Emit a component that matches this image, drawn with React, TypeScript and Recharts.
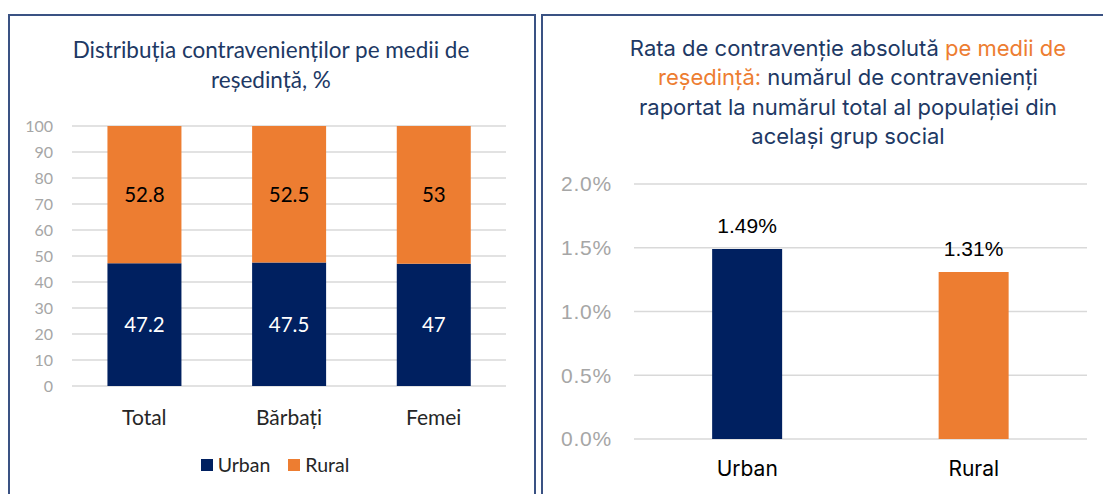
import { Bar, BarChart, CartesianGrid, Cell, LabelList, Legend, XAxis, YAxis } from "recharts";

const groups = ["Total", "Bărbați", "Femei"];
const urbanShare = [47.2, 47.5, 47];
const ruralShare = [52.8, 52.5, 53];
const shareTicks = [0, 10, 20, 30, 40, 50, 60, 70, 80, 90, 100];

const areas = ["Urban", "Rural"];
const rates = [1.49, 1.31];
const rateTicks = [0, 0.5, 1, 1.5, 2];

const NAVY = "#002060";
const ORANGE = "#ED7D31";
const TITLE = "#203864";
const GRID = "#D9D9D9";
const FRAME = "#3A5283";

const leftFont = "Lato, 'Open Sans', sans-serif";
const rightFont = "Inter, 'Liberation Sans', sans-serif";
const numFont = "'Liberation Sans', Arial, sans-serif";

const shareData = groups.map((g, i) => ({
    group: g,
    urban: urbanShare[i],
    rural: ruralShare[i],
}));

const rateData = areas.map((a, i) => ({ area: a, rate: rates[i] }));
const rateColors = [NAVY, ORANGE];

function ShareLegend() {
    const items = [
        { label: "Urban", color: NAVY },
        { label: "Rural", color: ORANGE },
    ];
    return (
        <div style={{ display: "flex", justifyContent: "center", gap: 18 }}>
            {items.map((it) => (
                <div key={it.label} style={{ display: "flex", alignItems: "center", gap: 5 }}>
                    <span style={{ width: 12, height: 12, background: it.color, display: "inline-block" }} />
                    <span style={{ fontFamily: leftFont, fontSize: 19.5, color: "#262626" }}>{it.label}</span>
                </div>
            ))}
        </div>
    );
}

export default function App() {
    return (
        <div
            style={{
                position: "absolute",
                left: 0,
                top: 0,
                width: 1103,
                height: 494,
                overflow: "hidden",
                background: "#fff",
            }}
        >
            <div
                style={{
                    position: "absolute",
                    left: 8,
                    top: 14,
                    width: 524,
                    height: 520,
                    border: `2px solid ${FRAME}`,
                }}
            />
            <div
                style={{
                    position: "absolute",
                    left: 541,
                    top: 14,
                    width: 600,
                    height: 520,
                    border: `2px solid ${FRAME}`,
                }}
            />

            <div
                style={{
                    position: "absolute",
                    left: 10,
                    top: 35,
                    width: 522,
                    textAlign: "center",
                    fontFamily: leftFont,
                    fontSize: 22.5,
                    lineHeight: "30px",
                    color: TITLE,
                }}
            >
                Distribuția contravenienților pe medii de
                <br />
                reședință, %
            </div>

            <div style={{ position: "absolute", left: 0, top: 0 }}>
                <BarChart
                    width={540}
                    height={494}
                    data={shareData}
                    margin={{ top: 126, right: 34, bottom: 78, left: 0 }}
                    barCategoryGap="24.5%"
                >
                    <CartesianGrid vertical={false} stroke={GRID} strokeWidth={1.5} />
                    <XAxis
                        dataKey="group"
                        axisLine={false}
                        tickLine={false}
                        tickSize={0}
                        tickMargin={24}
                        height={30}
                        tick={{ fontFamily: leftFont, fontSize: 21, fill: "#262626" }}
                    />
                    <YAxis
                        width={72}
                        domain={[0, 100]}
                        ticks={shareTicks}
                        axisLine={false}
                        tickLine={false}
                        tickSize={0}
                        tickMargin={19}
                        tick={{ fontFamily: leftFont, fontSize: 16, fill: "#A6A6A6" }}
                    />
                    <Legend
                        verticalAlign="middle"
                        layout="horizontal"
                        wrapperStyle={{ top: 453, left: 14, width: 522 }}
                        content={() => <ShareLegend />}
                    />
                    <Bar dataKey="urban" stackId="s" fill={NAVY} isAnimationActive={false}>
                        <LabelList
                            dataKey="urban"
                            position="center"
                            fill="#FFFFFF"
                            style={{ fontFamily: leftFont, fontSize: 20.5 }}
                        />
                    </Bar>
                    <Bar dataKey="rural" stackId="s" fill={ORANGE} isAnimationActive={false}>
                        <LabelList
                            dataKey="rural"
                            position="center"
                            fill="#000000"
                            style={{ fontFamily: leftFont, fontSize: 20.5 }}
                        />
                    </Bar>
                </BarChart>
            </div>

            <div
                style={{
                    position: "absolute",
                    left: 580,
                    top: 34,
                    width: 536,
                    textAlign: "center",
                    fontFamily: rightFont,
                    fontSize: 22,
                    lineHeight: "29.3px",
                    color: TITLE,
                }}
            >
                Rata de contravenție absolută <span style={{ color: ORANGE }}>pe medii de</span>
                <br />
                <span style={{ color: ORANGE }}>reședință:</span> numărul de contravenienți
                <br />
                raportat la numărul total al populației din
                <br />
                același grup social
            </div>

            <div style={{ position: "absolute", left: 541, top: 0 }}>
                <BarChart
                    width={562}
                    height={494}
                    data={rateData}
                    margin={{ top: 184, right: 16, bottom: 25, left: 0 }}
                    barCategoryGap="34.5%"
                >
                    <CartesianGrid vertical={false} stroke={GRID} strokeWidth={1.5} />
                    <XAxis
                        dataKey="area"
                        axisLine={false}
                        tickLine={false}
                        tickSize={0}
                        tickMargin={22}
                        height={30}
                        tick={{ fontFamily: rightFont, fontSize: 21, fill: "#000000" }}
                    />
                    <YAxis
                        width={93}
                        domain={[0, 2]}
                        ticks={rateTicks}
                        axisLine={false}
                        tickLine={false}
                        tickSize={0}
                        tickMargin={22}
                        tickFormatter={(v) => `${Number(v).toFixed(1)}%`}
                        tick={{ fontFamily: numFont, fontSize: 21, fill: "#A6A6A6", letterSpacing: 0.8 }}
                    />
                    <Bar dataKey="rate" isAnimationActive={false}>
                        {rateData.map((d, i) => (
                            <Cell key={d.area} fill={rateColors[i]} />
                        ))}
                        <LabelList
                            dataKey="rate"
                            position="top"
                            offset={16}
                            fill="#000000"
                            formatter={(v) => `${Number(v).toFixed(2)}%`}
                            style={{ fontFamily: numFont, fontSize: 21 }}
                        />
                    </Bar>
                </BarChart>
            </div>
        </div>
    );
}
